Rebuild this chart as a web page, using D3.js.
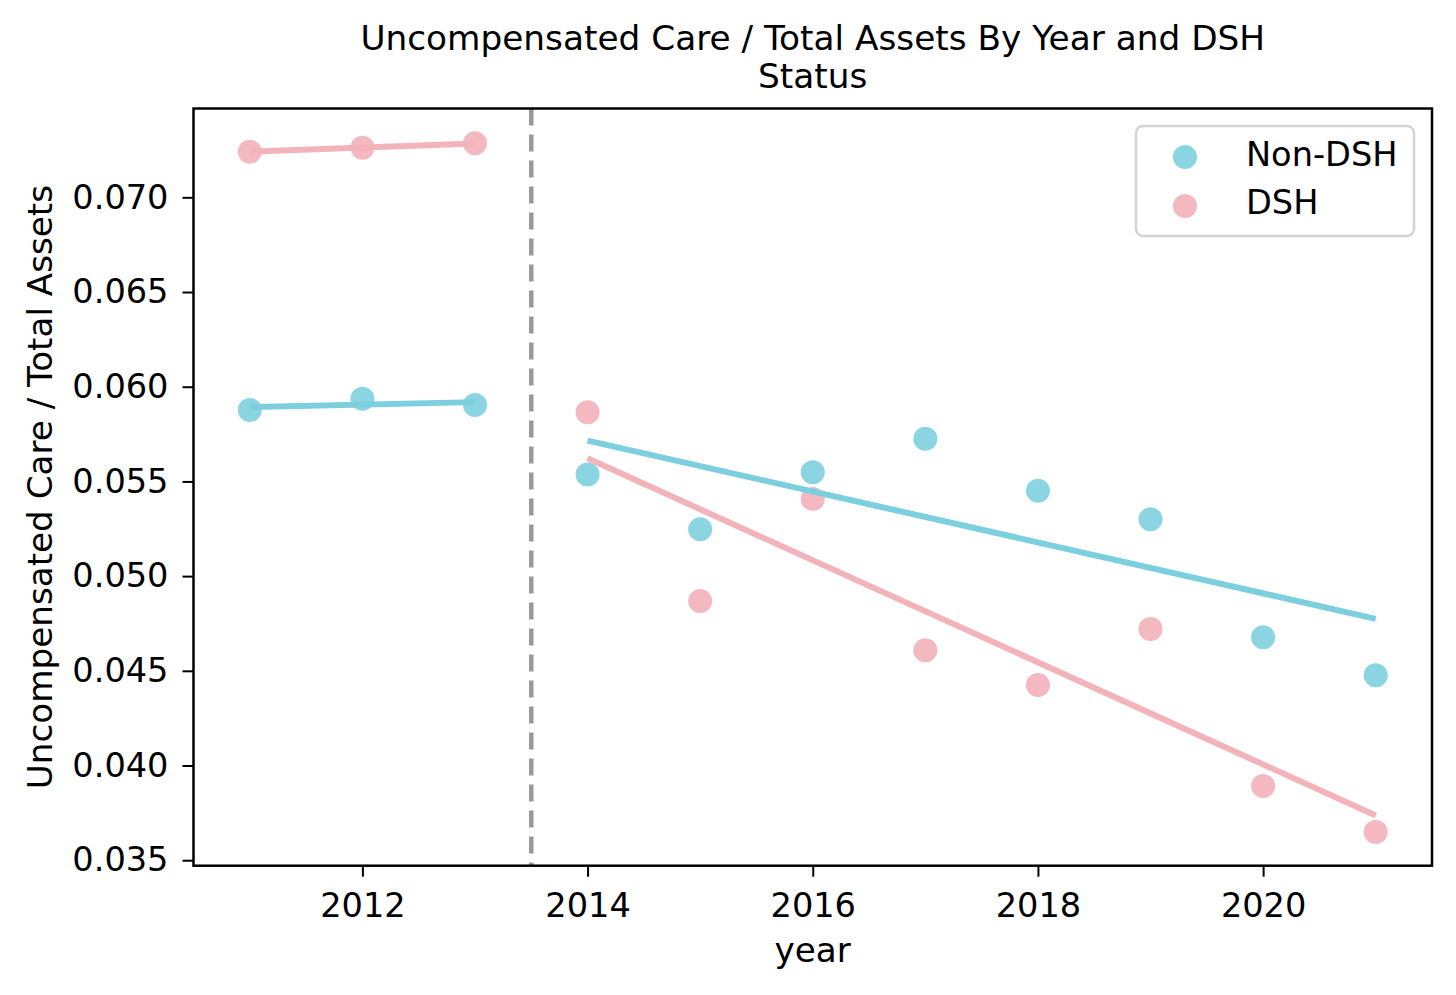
<!DOCTYPE html>
<html>
<head>
<meta charset="utf-8">
<script src="https://cdn.jsdelivr.net/npm/d3@7"></script>
<style>
  body { margin: 0; background: #fff; }
  text { font-family: "DejaVu Sans", sans-serif; fill: #000; }
</style>
</head>
<body>
<svg id="chart"></svg>
<script>
// values
const preYears = [2011, 2012, 2013];
const postYears = [2014, 2015, 2016, 2017, 2018, 2019, 2020, 2021];

const nonDshPre = [0.05877, 0.05937, 0.05903];
const dshPre = [0.07241, 0.07262, 0.07285];
const nonDshPost = [0.05537, 0.05247, 0.05548, 0.05725, 0.05451, 0.053, 0.04677, 0.04476];
const dshPost = [0.05865, 0.04868, 0.05407, 0.04608, 0.04425, 0.04721, 0.03892, 0.03649];

const xTicks = [2012, 2014, 2016, 2018, 2020];
const yTicks = [0.035, 0.04, 0.045, 0.05, 0.055, 0.06, 0.065, 0.07];
const cutoff = 2013.5;

const seriesNames = ["Non-DSH", "DSH"];
const lineColors = ["#7bcfdf", "#f2b3bb"];
const dotColors = ["#8bd4e2", "#f4b8c0"];

const w = 1456;
const h = 995;
const pLeft = 193.5, pRight = 1432, pTop = 108.5, pBottom = 865.7;

const svg = d3.select("#chart").attr("width", w).attr("height", h);

const xScale = d3.scaleLinear().domain([2010.5, 2021.5]).range([pLeft, pRight]);
const yScale = d3.scaleLinear().domain([0.03471, 0.07469]).range([pBottom, pTop]);

// least squares line across the span of the points
function fit(xs, ys) {
  const mx = d3.mean(xs), my = d3.mean(ys);
  const sxy = d3.sum(xs, (x, i) => (x - mx) * (ys[i] - my));
  const sxx = d3.sum(xs, (x) => (x - mx) * (x - mx));
  const b = sxy / sxx;
  const x0 = d3.min(xs), x1 = d3.max(xs);
  return [[x0, my + b * (x0 - mx)], [x1, my + b * (x1 - mx)]];
}

const groups = [
  { xs: preYears, ys: nonDshPre, s: 0 },
  { xs: preYears, ys: dshPre, s: 1 },
  { xs: postYears, ys: nonDshPost, s: 0 },
  { xs: postYears, ys: dshPost, s: 1 }
];

// x axis
svg.append("g")
  .attr("transform", `translate(0, ${pBottom})`)
  .call(d3.axisBottom(xScale).tickValues(xTicks).tickFormat(d3.format("d"))
    .tickSize(11).tickSizeOuter(0).tickPadding(16))
  .call((g) => g.select(".domain").remove())
  .call((g) => g.selectAll("line").attr("stroke-width", 2))
  .call((g) => g.selectAll("text").style("font-size", "33.6px")
    .style("font-family", "DejaVu Sans"));

// y axis
svg.append("g")
  .attr("transform", `translate(${pLeft}, 0)`)
  .call(d3.axisLeft(yScale).tickValues(yTicks).tickFormat(d3.format(".3f"))
    .tickSize(11).tickSizeOuter(0).tickPadding(14))
  .call((g) => g.select(".domain").remove())
  .call((g) => g.selectAll("line").attr("stroke-width", 2))
  .call((g) => g.selectAll("text").style("font-size", "33.6px")
    .style("font-family", "DejaVu Sans"));

// markers
groups.forEach((g) => {
  svg.append("g")
    .selectAll("circle")
    .data(g.xs.map((x, i) => [x, g.ys[i]]))
    .enter()
    .append("circle")
    .attr("cx", (d) => xScale(d[0]))
    .attr("cy", (d) => yScale(d[1]))
    .attr("r", 12)
    .attr("fill", dotColors[g.s]);
});

// regression lines
const line = d3.line().x((d) => xScale(d[0])).y((d) => yScale(d[1]));
groups.forEach((g) => {
  svg.append("path")
    .attr("d", line(fit(g.xs, g.ys)))
    .attr("fill", "none")
    .attr("stroke", lineColors[g.s])
    .attr("stroke-width", 6);
});

// cutoff
svg.append("line")
  .attr("x1", xScale(cutoff)).attr("x2", xScale(cutoff))
  .attr("y1", pTop).attr("y2", pBottom)
  .attr("stroke", "#999999")
  .attr("stroke-width", 4.5)
  .attr("stroke-dasharray", "17,9");

// frame
svg.append("rect")
  .attr("x", pLeft).attr("y", pTop)
  .attr("width", pRight - pLeft).attr("height", pBottom - pTop)
  .attr("fill", "none")
  .attr("stroke", "#000")
  .attr("stroke-width", 2.5);

// legend
const lg = svg.append("g");
lg.append("rect")
  .attr("x", 1136).attr("y", 126).attr("width", 278).attr("height", 110)
  .attr("rx", 7)
  .attr("fill", "#fff").attr("fill-opacity", 0.8)
  .attr("stroke", "#d3d3d3").attr("stroke-width", 2.5);
seriesNames.forEach((name, i) => {
  lg.append("circle")
    .attr("cx", 1185).attr("cy", 157 + i * 49)
    .attr("r", 12).attr("fill", dotColors[i]);
  lg.append("text")
    .attr("x", 1246).attr("y", 166 + i * 48)
    .style("font-size", "33.6px")
    .text(name);
});

// titles
const cx = (pLeft + pRight) / 2;
svg.append("text").attr("x", cx).attr("y", 50).attr("text-anchor", "middle")
  .style("font-size", "34.3px").text("Uncompensated Care / Total Assets By Year and DSH");
svg.append("text").attr("x", cx).attr("y", 88).attr("text-anchor", "middle")
  .style("font-size", "34.3px").text("Status");

svg.append("text").attr("x", cx).attr("y", 962).attr("text-anchor", "middle")
  .style("font-size", "34.2px").text("year");

svg.append("text")
  .attr("transform", `translate(52, ${(pTop + pBottom) / 2}) rotate(-90)`)
  .attr("text-anchor", "middle")
  .style("font-size", "34.2px")
  .text("Uncompensated Care / Total Assets");
</script>
</body>
</html>
